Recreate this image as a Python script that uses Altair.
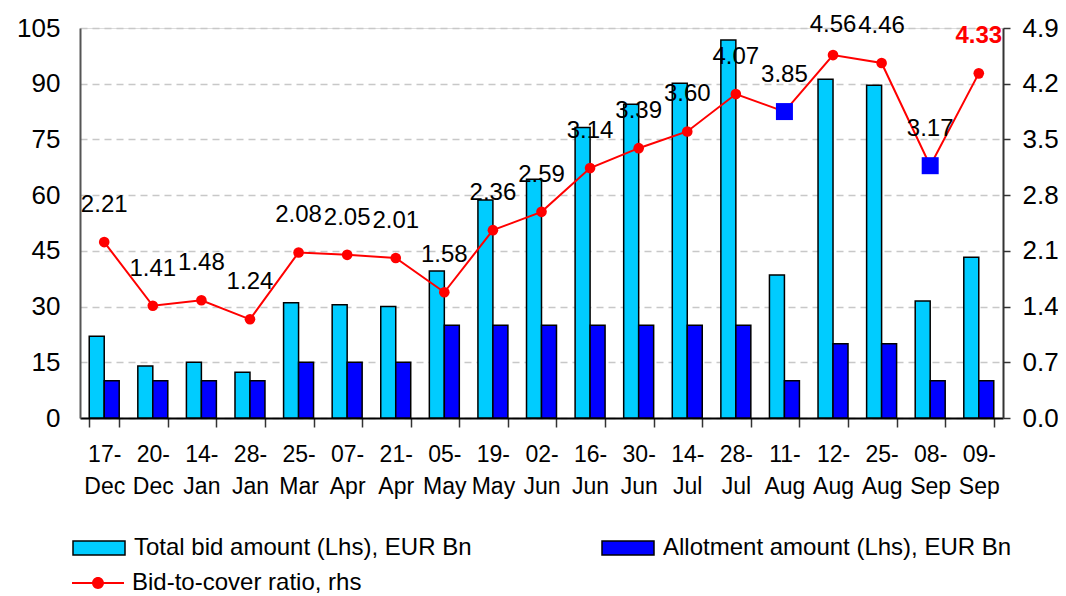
import altair as alt
import pandas as pd

# ---- data ----
cats = ["17- Dec", "20- Dec", "14- Jan", "28- Jan", "25- Mar", "07- Apr", "21- Apr",
        "05- May", "19- May", "02- Jun", "16- Jun", "30- Jun", "14- Jul", "28- Jul",
        "11- Aug", "12- Aug", "25- Aug", "08- Sep", "09- Sep"]
total_bid = [22, 14, 15, 12.3, 31, 30.5, 30, 39.6, 58.7, 64.3, 78.2, 84.5, 90.1,
             101.8, 38.5, 91.2, 89.6, 31.5, 43.3]
allotment = [10, 10, 10, 10, 15, 15, 15, 25, 25, 25, 25, 25, 25, 25, 10, 20, 20, 10, 10]
ratio = [2.21, 1.41, 1.48, 1.24, 2.08, 2.05, 2.01, 1.58, 2.36, 2.59, 3.14, 3.39, 3.60,
         4.07, 3.85, 4.56, 4.46, 3.17, 4.33]
square_cats = ["11- Aug", "08- Sep"]
highlight_cats = ["09- Sep"]

bar_series = ["Total bid amount (Lhs), EUR Bn", "Allotment amount (Lhs), EUR Bn"]
line_series = "Bid-to-cover ratio, rhs"
left_ticks = [0, 15, 30, 45, 60, 75, 90, 105]
right_ticks = [0.0, 0.7, 1.4, 2.1, 2.8, 3.5, 4.2, 4.9]

# ---- tables ----
bars_df = pd.DataFrame(
    [{"cat": c, "series": bar_series[0], "value": v} for c, v in zip(cats, total_bid)]
    + [{"cat": c, "series": bar_series[1], "value": v} for c, v in zip(cats, allotment)]
)
line_df = pd.DataFrame({
    "cat": cats,
    "ratio": ratio,
    "label": [f"{r:.2f}" for r in ratio],
    "square": [c in square_cats for c in cats],
    "hl": [c in highlight_cats for c in cats],
    "series": [line_series] * len(cats),
})

FONT = "Liberation Sans, Arial, sans-serif"
RECT_PATH = "M-1,-0.27H1V0.27H-1Z"
LINE_DOT_PATH = ("M-1,-0.04H1V0.04H-1Z "
                 "M0.23,0A0.23,0.23 0 1 1 -0.23,0A0.23,0.23 0 1 1 0.23,0Z")

x_axis = alt.Axis(
    title=None, labelAngle=0, labelFontSize=23, labelFont=FONT, labelColor="black",
    labelExpr="split(datum.label, ' ')", labelLineHeight=32, labelPadding=16,
    tickBand="extent", tickSize=9, tickColor="#333333", tickWidth=1.5,
    domainColor="black", domainWidth=2, grid=False,
)
x_scale = alt.Scale(paddingInner=0.383, paddingOuter=0.19)

bars = alt.Chart(bars_df).mark_bar(stroke="black", strokeWidth=1.5, opacity=1).encode(
    x=alt.X("cat:N", sort=cats, scale=x_scale, axis=x_axis),
    xOffset=alt.XOffset("series:N", sort=bar_series,
                        scale=alt.Scale(paddingInner=0, paddingOuter=0)),
    y=alt.Y("value:Q",
            scale=alt.Scale(domain=[0, 105], nice=False, zero=True),
            axis=alt.Axis(title=None, values=left_ticks, labelFontSize=26, labelFont=FONT,
                          labelColor="black", ticks=False, tickSize=0, labelPadding=20,
                          domainColor="#555555", domainWidth=2,
                          grid=True, gridColor="#c8c8c8", gridDash=[7, 5], gridWidth=1.5)),
    color=alt.Color("series:N", sort=bar_series,
                    scale=alt.Scale(domain=bar_series, range=["#00CCFF", "#0000FF"]),
                    legend=alt.Legend(title=None, orient="none", legendX=-8, legendY=493,
                                      direction="horizontal", columns=2, columnPadding=127,
                                      symbolType=RECT_PATH, symbolSize=2704,
                                      symbolStrokeColor="black", symbolStrokeWidth=1.5,
                                      symbolOpacity=1,
                                      labelFontSize=24, labelFont=FONT, labelColor="black",
                                      labelLimit=600, labelOffset=8, padding=0)),
)

yr_scale = alt.Scale(domain=[0, 4.9], nice=False, zero=True)
yr_axis = alt.Axis(orient="right", title=None, values=right_ticks, format=".1f",
                   labelFontSize=26, labelFont=FONT, labelColor="black",
                   tickSize=7, tickColor="#333333", tickWidth=1.5, labelPadding=12,
                   domainColor="#333333", domainWidth=2, grid=False)

base = alt.Chart(line_df).transform_calculate(
    label_y="min(datum.ratio + 0.465, 4.94)"
).encode(
    x=alt.X("cat:N", sort=cats, scale=x_scale, axis=x_axis),
    y=alt.Y("ratio:Q", scale=yr_scale, axis=yr_axis),
)

line = base.mark_line(color="#FF0000", strokeWidth=2)

pts = base.mark_circle(size=113, opacity=1).encode(
    color=alt.Color("series:N",
                    scale=alt.Scale(domain=[line_series], range=["#FF0000"]),
                    legend=alt.Legend(title=None, orient="none", legendX=-8, legendY=529,
                                      symbolType=LINE_DOT_PATH, symbolSize=2704,
                                      symbolStrokeWidth=0, symbolOpacity=1,
                                      labelFontSize=24, labelFont=FONT, labelColor="black",
                                      labelLimit=600, labelOffset=8, padding=0)),
)

squares = base.transform_filter("datum.square").mark_square(
    size=289, color="#0000FF", opacity=1)

labels = base.transform_filter("!datum.hl").mark_text(
    fontSize=24, font=FONT, color="black", baseline="middle", align="center"
).encode(y=alt.Y("label_y:Q", scale=yr_scale, axis=yr_axis), text="label:N")

hl_labels = base.transform_filter("datum.hl").mark_text(
    fontSize=24, font=FONT, fontWeight="bold", color="#FF0000",
    baseline="middle", align="center"
).encode(y=alt.Y("label_y:Q", scale=yr_scale, axis=yr_axis), text="label:N")

right_group = alt.layer(line, pts, squares, labels, hl_labels)

chart = alt.layer(bars, right_group).resolve_scale(
    y="independent", color="independent"
).properties(
    width=923, height=390,
    autosize=alt.AutoSizeParams(type="none"),
    padding={"left": 72, "top": 20, "right": 55, "bottom": 178},
).configure_view(
    stroke="#888888", strokeWidth=2
).configure(
    font=FONT, background="white"
)

chart.save("out.html", embed_options={"renderer": "svg", "actions": False})
